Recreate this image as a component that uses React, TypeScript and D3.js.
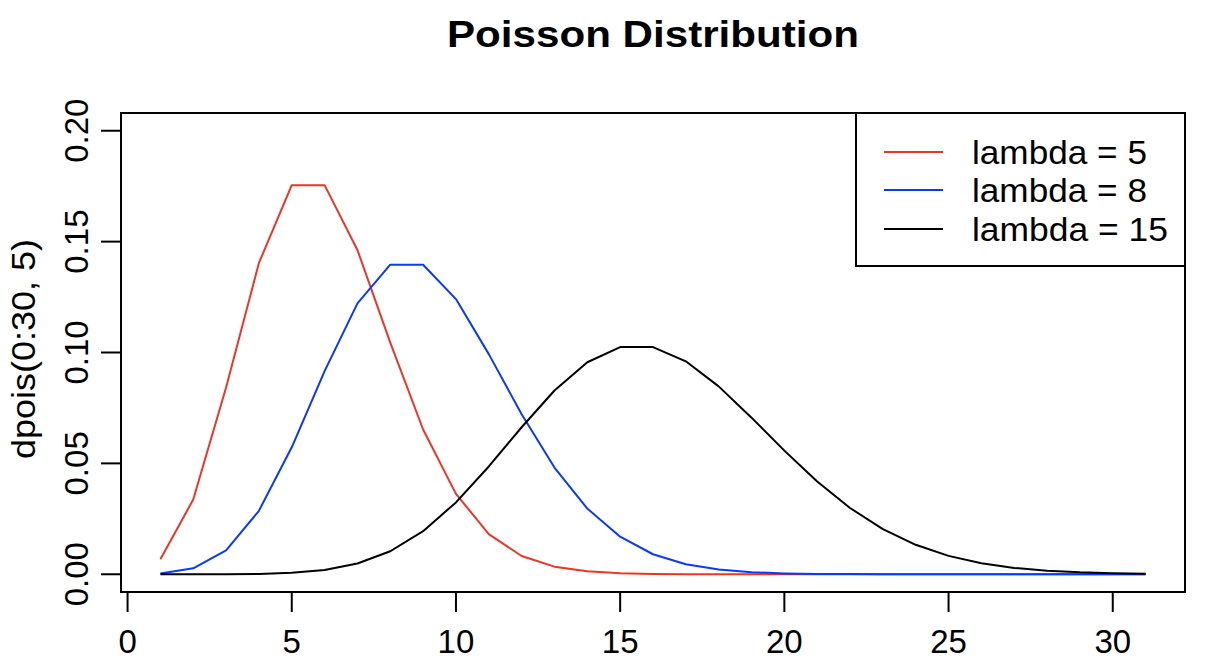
import React from "react";
import * as d3 from "d3";

const xIndex: number[] = [1,2,3,4,5,6,7,8,9,10,11,12,13,14,15,16,17,18,19,20,21,22,23,24,25,26,27,28,29,30,31];
const lambda5: number[] = [0.006738,0.033690,0.084224,0.140374,0.175467,0.175467,0.146223,0.104445,0.065278,0.036266,0.018133,0.008242,0.003434,0.001321,0.000472,0.000157,0.000049,0.000015,0.000004,0.000001,0.0000003,0,0,0,0,0,0,0,0,0,0];
const lambda8: number[] = [0.000335,0.002684,0.010735,0.028626,0.057252,0.091604,0.122138,0.139587,0.139587,0.124077,0.099262,0.072190,0.048127,0.029616,0.016924,0.009026,0.004513,0.002124,0.000944,0.000397,0.000159,0.000061,0.000022,0.000008,0.000003,0.000001,0,0,0,0,0];
const lambda15: number[] = [0.0000003,0.0000046,0.0000344,0.000172,0.000645,0.001936,0.004839,0.010370,0.019444,0.032407,0.048611,0.066287,0.082859,0.095607,0.102436,0.102436,0.096034,0.084736,0.070613,0.055747,0.041810,0.029865,0.020362,0.013280,0.008300,0.004980,0.002873,0.001596,0.000855,0.000442,0.000221];
const seriesNames: string[] = ["lambda = 5", "lambda = 8", "lambda = 15"];
const seriesColors: string[] = ["#EB3626", "#0A3AF8", "#000000"];
const xTicks: number[] = [0, 5, 10, 15, 20, 25, 30];
const yTicks: number[] = [0, 0.05, 0.1, 0.15, 0.2];
const yTickLabels: string[] = ["0.00", "0.05", "0.10", "0.15", "0.20"];
const titleText = "Poisson Distribution";
const yLabelText = "dpois(0:30, 5)";

const W = 1206, H = 664;
const left = 121, right = 1185, top = 113, bottom = 592;
const FONT = "'Liberation Sans', Arial, sans-serif";
const legendTextWidths = [175, 175, 196];

export default function App() {
  const x = d3.scaleLinear().domain([-0.2, 32.2]).range([left, right]);
  const y = d3.scaleLinear().domain([-0.008, 0.208]).range([bottom, top]);
  const line = d3.line<number>().x((_, i) => x(xIndex[i])).y((d) => y(d));
  const series = [lambda5, lambda8, lambda15];
  const legX0 = 856, legY0 = 113, legX1 = 1185, legY1 = 266;
  const rowY = [152, 190, 229];
  return (
    <svg width={W} height={H} style={{ position: "absolute", left: 0, top: 0, background: "#fff" }}>
      <rect x={0} y={0} width={W} height={H} fill="#fff" />
      <text x={447} y={47} fontFamily={FONT} fontWeight="bold" fontSize={36} textLength={412} lengthAdjust="spacingAndGlyphs">{titleText}</text>
      {series.map((s, i) => (
        <path key={i} d={line(s) || ""} fill="none" stroke={seriesColors[i]} strokeWidth={2} strokeLinejoin="round" />
      ))}
      <rect x={left} y={top} width={right - left} height={bottom - top} fill="none" stroke="#000" strokeWidth={2} />
      {/* x axis */}
      <line x1={x(xTicks[0])} x2={x(xTicks[xTicks.length - 1])} y1={bottom} y2={bottom} stroke="#000" strokeWidth={2} />
      {xTicks.map((t) => (
        <g key={t}>
          <line x1={x(t)} x2={x(t)} y1={bottom} y2={bottom + 20} stroke="#000" strokeWidth={2} />
          <text x={x(t)} y={653} textAnchor="middle" fontFamily={FONT} fontSize={33}>{t}</text>
        </g>
      ))}
      {/* y axis */}
      <line x1={left} x2={left} y1={y(yTicks[0])} y2={y(yTicks[yTicks.length - 1])} stroke="#000" strokeWidth={2} />
      {yTicks.map((t, i) => (
        <g key={t}>
          <line x1={left - 20} x2={left} y1={y(t)} y2={y(t)} stroke="#000" strokeWidth={2} />
          <text transform={`translate(88,${y(t)}) rotate(-90)`} textAnchor="middle" fontFamily={FONT} fontSize={33}>{yTickLabels[i]}</text>
        </g>
      ))}
      <text transform={`translate(35,459) rotate(-90)`} fontFamily={FONT} fontSize={33} textLength={220} lengthAdjust="spacingAndGlyphs">{yLabelText}</text>
      {/* legend */}
      <rect x={legX0} y={legY0} width={legX1 - legX0} height={legY1 - legY0} fill="#fff" stroke="#000" strokeWidth={2} />
      {seriesNames.map((n, i) => (
        <g key={n}>
          <line x1={884} x2={943} y1={rowY[i]} y2={rowY[i]} stroke={seriesColors[i]} strokeWidth={2} />
          <text x={972} y={rowY[i] + 12} fontFamily={FONT} fontSize={33} textLength={legendTextWidths[i]} lengthAdjust="spacingAndGlyphs">{n}</text>
        </g>
      ))}
    </svg>
  );
}
